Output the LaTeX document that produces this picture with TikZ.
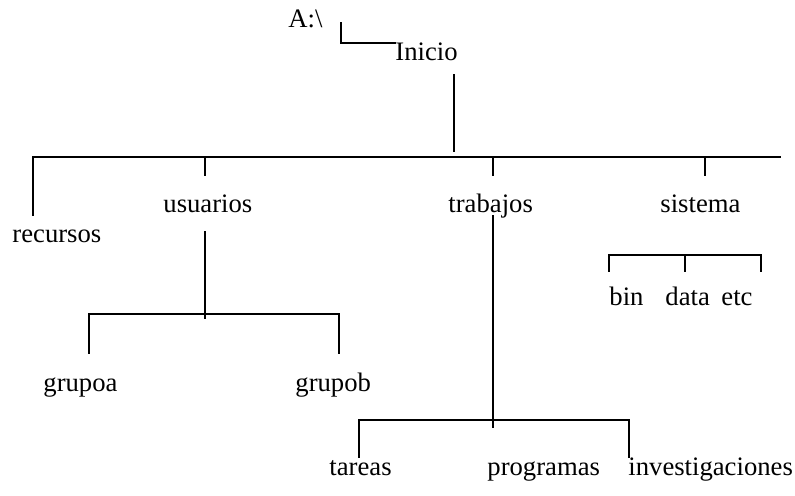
\documentclass[tikz,border=0pt]{standalone}
\usepackage{fontspec}
\setmainfont{Liberation Serif}
\begin{document}
\begin{tikzpicture}[x=0.45pt,y=-0.45pt,
  lbl/.style={anchor=base west,inner sep=0pt,font=\fontsize{12}{14}\selectfont},
  ln/.style={line width=0.9pt,line cap=rect}]
\useasboundingbox (0,0) rectangle (795,495);
% labels
\node[lbl] (a) at (288,27) {A:\textbackslash};
\node[lbl] (inicio) at (395,60) {Inicio};
\node[lbl] (recursos) at (12,242) {recursos};
\node[lbl] (usuarios) at (163,212) {usuarios};
\node[lbl] (trabajos) at (448,212) {trabajos};
\node[lbl] (sistema) at (660,212) {sistema};
\node[lbl] (bin) at (609,305) {bin};
\node[lbl] (data) at (665,305) {data};
\node[lbl] (etc) at (721,305) {etc};
\node[lbl] (grupoa) at (43,391) {grupoa};
\node[lbl] (grupob) at (295,391) {grupob};
\node[lbl] (tareas) at (329,475) {tareas};
\node[lbl] (programas) at (487,475) {programas};
\node[lbl] (investigaciones) at (628,475) {investigaciones};
% connector points
\coordinate (a1) at (341,23); \coordinate (a2) at (341,43); \coordinate (a3) at (395,43);
\coordinate (i1) at (454,75); \coordinate (i2) at (454,151);
\coordinate (hL) at (33,157); \coordinate (hR) at (780,157);
\coordinate (rB) at (33,215);
\coordinate (uT) at (205,157); \coordinate (uB) at (205,175);
\coordinate (tT) at (493,157); \coordinate (tB) at (493,175);
\coordinate (sT) at (705,157); \coordinate (sB) at (705,175);
% usuarios subtree
\coordinate (u1) at (205,232); \coordinate (u2) at (205,318);
\coordinate (gL) at (89,314); \coordinate (gR) at (339,314);
\coordinate (gLb) at (89,353); \coordinate (gRb) at (339,353);
% trabajos subtree
\coordinate (t1) at (493,216); \coordinate (t2) at (493,427);
\coordinate (pL) at (359,420); \coordinate (pR) at (629,420);
\coordinate (pLb) at (359,457); \coordinate (pRb) at (629,457);
% sistema subtree
\coordinate (bL) at (609,255); \coordinate (bM) at (685,255); \coordinate (bR) at (761,255);
\coordinate (bLb) at (609,271); \coordinate (bMb) at (685,271); \coordinate (bRb) at (761,271);
% lines
\draw[ln] (a1) -- (a2) -- (a3);
\draw[ln] (i1) -- (i2);
\draw[ln] (rB) -- (hL) -- (hR);
\draw[ln] (uT) -- (uB);
\draw[ln] (tT) -- (tB);
\draw[ln] (sT) -- (sB);
\draw[ln] (u1) -- (u2);
\draw[ln] (gLb) -- (gL) -- (gR) -- (gRb);
\draw[ln] (t1) -- (t2);
\draw[ln] (pLb) -- (pL) -- (pR) -- (pRb);
\draw[ln] (bLb) -- (bL) -- (bR) -- (bRb);
\draw[ln] (bM) -- (bMb);
\end{tikzpicture}
\end{document}
